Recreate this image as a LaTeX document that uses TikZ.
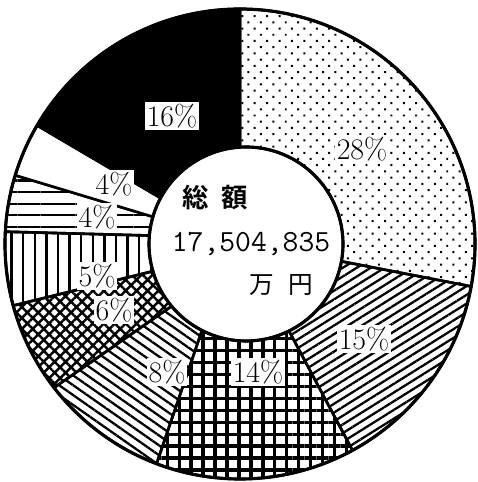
\documentclass[tikz,border=0pt]{standalone}
\usepackage{fontspec}
\newfontfamily\jpfont{Noto Sans CJK JP}[BoldFont=* Bold]
\usetikzlibrary{calc,patterns.meta}
\tikzset{
    pct/.style={fill=white,inner sep=1pt,font=\fontsize{17}{17}\selectfont},
    sector/.style={draw=black,line width=1.5pt,line join=round},
    dotfill/.style={pattern={Dots[angle=45,distance=5pt,radius=0.8pt]}},
    risefill/.style={pattern={Lines[angle=32,distance=4.2pt,line width=1.3pt]}},
    gridfill/.style={pattern={Hatch[angle=0,distance=6.8pt,line width=1.9pt]}},
    fallfill/.style={pattern={Lines[angle=-35,distance=4.6pt,line width=1.3pt]}},
    crossfill/.style={pattern={Hatch[angle=45,distance=4.4pt,line width=1.4pt]}},
    vertfill/.style={pattern={Lines[angle=90,distance=6.6pt,line width=1.3pt]}},
    horzfill/.style={pattern={Lines[angle=0,distance=6.6pt,line width=1.3pt]}},
    whitefill/.style={fill=white},
    blackfill/.style={fill=black},
}
\begin{document}
\begin{tikzpicture}[x=0.02cm,y=0.02cm]
\useasboundingbox (0,0) rectangle (477,482);
\coordinate (O) at (240,238);
\coordinate (I) at (246,238);
\def\R{235}
\def\r{97}

% slices, clockwise from the top
\foreach \ao/\ai/\bo/\bi/\fs in {90/93.5/-10.4/-10.3/dotfill,
                                 -10.4/-10.3/-61.4/-63.7/risefill,
                                 -61.4/-63.7/-110.8/-117/gridfill,
                                 -110.8/-117/-142.3/-140.1/fallfill,
                                 -142.3/-140.1/-164.8/-163.7/crossfill,
                                 -164.8/-163.7/-183/-185/vertfill,
                                 -183/-185/-197/-196.3/horzfill,
                                 -197/-196.3/-210.3/-208.3/whitefill,
                                 -210.3/-208.3/-270/-266.5/blackfill}
  \path[sector,\fs] ($(O)+(\ao:\R)$) arc[start angle=\ao,end angle=\bo,radius=\R]
        -- ($(I)+(\bi:\r)$) arc[start angle=\bi,end angle=\ai,radius=\r] -- cycle;

\draw[line width=1.8pt] (O) circle[radius=\R];
\draw[line width=1.8pt] (I) circle[radius=\r];

\node[pct] (p28) at (362,333) {28\%};
\node[pct] (p15) at (364,143) {15\%};
\node[pct] (p14) at (258,110) {14\%};
\node[pct] (p8) at (167,110) {8\%};
\node[pct] (p6) at (114,172) {6\%};
\node[pct] (p5) at (97,206) {5\%};
\node[pct] (p4a) at (97,265) {4\%};
\node[pct] (p4b) at (114,298) {4\%};
\node[pct] (p16) at (172,366) {16\%};

\node[font=\jpfont\bfseries\fontsize{15}{15}\selectfont] (total) at (215,285) {総\hspace{7pt}額};
\node[font=\ttfamily\fontsize{17.5}{17.5}\selectfont] (amount) at (251,238) {17,504,835};
\node[font=\jpfont\fontsize{14}{14}\selectfont] (unit) at (281,197) {万\hspace{8pt}円};
\end{tikzpicture}
\end{document}
